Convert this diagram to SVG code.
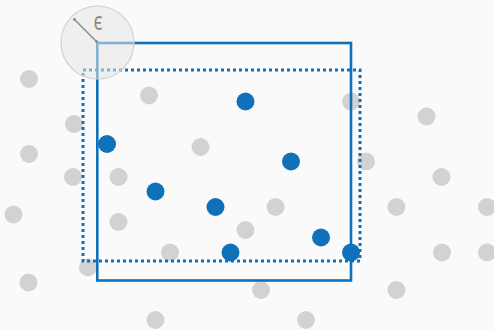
<svg xmlns="http://www.w3.org/2000/svg" width="494" height="330" viewBox="0 0 494 330">
<style>
.g{fill:#d1d2d4}
.b{fill:#0f71ba}
.box{fill:none;stroke:#0f71ba;stroke-width:2.6}
.dot{fill:none;stroke:#0f71ba;stroke-width:3;stroke-dasharray:3 3}
</style>
<rect width="494" height="330" fill="#fafafa"/>
<g id="gray-points">
<circle class="g" cx="29" cy="79" r="9"/>
<circle class="g" cx="149" cy="95.5" r="9"/>
<circle class="g" cx="74" cy="124" r="9"/>
<circle class="g" cx="351" cy="101.5" r="9"/>
<circle class="g" cx="426.5" cy="116.5" r="9"/>
<circle class="g" cx="29" cy="154" r="9"/>
<circle class="g" cx="200.5" cy="147" r="9"/>
<circle class="g" cx="366" cy="161.5" r="9"/>
<circle class="g" cx="73" cy="177" r="9"/>
<circle class="g" cx="118.5" cy="177" r="9"/>
<circle class="g" cx="441.5" cy="177" r="9"/>
<circle class="g" cx="13.5" cy="214.5" r="9"/>
<circle class="g" cx="118.5" cy="222" r="9"/>
<circle class="g" cx="275.5" cy="207" r="9"/>
<circle class="g" cx="396.5" cy="207" r="9"/>
<circle class="g" cx="487" cy="207" r="9"/>
<circle class="g" cx="245.5" cy="230" r="9"/>
<circle class="g" cx="170" cy="252.5" r="9"/>
<circle class="g" cx="442" cy="252.5" r="9"/>
<circle class="g" cx="487" cy="252.5" r="9"/>
<circle class="g" cx="88" cy="267.5" r="9"/>
<circle class="g" cx="28.5" cy="282.5" r="9"/>
<circle class="g" cx="261" cy="290" r="9"/>
<circle class="g" cx="396.5" cy="290" r="9"/>
<circle class="g" cx="155.5" cy="320" r="9"/>
<circle class="g" cx="306" cy="320" r="9"/>
</g>
<g id="regions">
<rect id="window" class="box" x="97.3" y="43" width="253.7" height="237.5"/>
<rect id="expanded-window" class="dot" x="83" y="70" width="277" height="191"/>
</g>
<g id="blue-points">
<circle class="b" cx="245.5" cy="101.5" r="9"/>
<circle class="b" cx="107" cy="144" r="9"/>
<circle class="b" cx="291" cy="161.5" r="9"/>
<circle class="b" cx="155.5" cy="191.5" r="9"/>
<circle class="b" cx="215.5" cy="207" r="9"/>
<circle class="b" cx="230.5" cy="252.5" r="9"/>
<circle class="b" cx="321" cy="237.5" r="9"/>
<circle class="b" cx="351" cy="252.5" r="9"/>
</g>
<g id="epsilon">
<circle cx="97.5" cy="42.5" r="36.5" fill="#e6e6e6" fill-opacity="0.55" stroke="#d2d2d2" stroke-width="1.2"/>
<line x1="74.5" y1="19.5" x2="96.5" y2="41.5" stroke="#8a8a8a" stroke-width="1.4"/>
<circle cx="74.5" cy="19.5" r="1.4" fill="#8a8a8a"/>
<circle cx="96.5" cy="41.5" r="1.4" fill="#8a8a8a"/>
<text transform="translate(98,30) scale(0.95,1.3)" font-family="Noto Sans, DejaVu Sans, sans-serif" font-size="19" fill="#8a8a8a" text-anchor="middle">ϵ</text>
</g>
</svg>
